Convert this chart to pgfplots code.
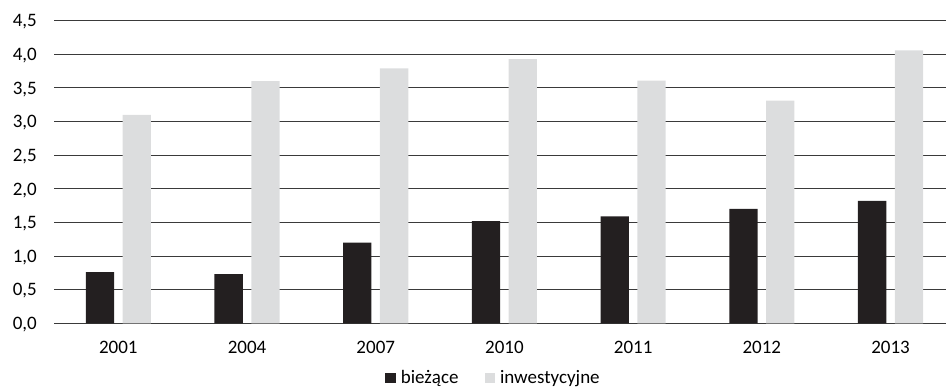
\documentclass[border=0pt]{standalone}
\usepackage{pgfplots}
\pgfplotsset{compat=1.18}
\usepackage{fontspec}
\setmainfont{Carlito}

\definecolor{biez}{HTML}{231F20}
\definecolor{inw}{HTML}{DCDDDE}
\definecolor{gridc}{HTML}{3A3A3A}

\begin{document}
\fontsize{19}{23}\selectfont
\begin{tikzpicture}
\path[use as bounding box] (0,0) rectangle (946pt,388pt);
\begin{axis}[
  at={(54pt,64.7pt)}, anchor=south west,
  scale only axis, width=892pt, height=302.6pt,
  xmin=-0.5, xmax=6.431, ymin=0, ymax=4.5,
  axis line style={draw=none},
  major tick length=0pt,
  ymajorgrids, grid style={gridc, line width=1.1pt},
  ytick={0,0.5,1,1.5,2,2.5,3,3.5,4,4.5},
  xtick={0,1,2,3,4,5,6},
  xticklabels={2001,2004,2007,2010,2011,2012,2013},
  /pgf/number format/use comma,
  /pgf/number format/fixed,
  /pgf/number format/fixed zerofill,
  /pgf/number format/precision=1,
  /pgf/number format/assume math mode=true,
  yticklabel style={anchor=base east, inner sep=0pt, xshift=-17pt, yshift=-6.2pt},
  xticklabel style={anchor=north, inner sep=0pt, yshift=-17.7pt},
  ybar, bar width=28.3pt,
  legend columns=2,
  legend style={draw=none, at={(axis description cs:0.4916,-0.1824)}, anchor=center,
    nodes={inner sep=0pt}, column sep=5pt,
    /tikz/every even column/.append style={column sep=26pt}},
  legend image code/.code={\fill[#1] (0pt,-5pt) rectangle (10.5pt,5.5pt);},
]
\addplot[fill=biez, draw=none, bar shift=-18.4pt] coordinates {
  (0,0.76) (1,0.73) (2,1.20) (3,1.52) (4,1.59) (5,1.70) (6,1.82)};
\addplot[fill=inw, draw=none, bar shift=18.4pt] coordinates {
  (0,3.10) (1,3.60) (2,3.79) (3,3.93) (4,3.61) (5,3.31) (6,4.06)};
\legend{bieżące, inwestycyjne}
\end{axis}
\end{tikzpicture}
\end{document}
